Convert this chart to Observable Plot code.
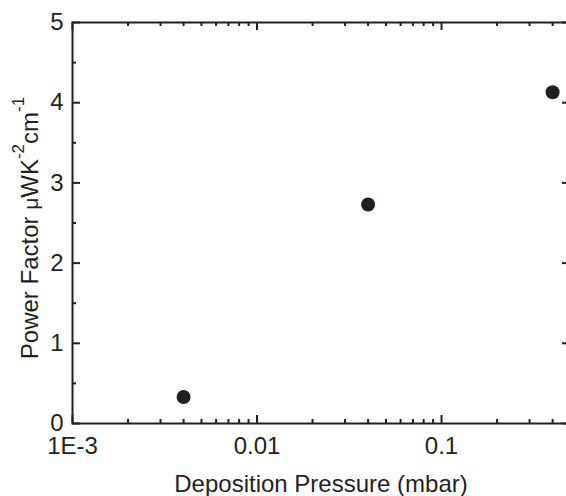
<!DOCTYPE html>
<html><head><meta charset="utf-8">
<script src="https://cdn.jsdelivr.net/npm/d3@7"></script>
<script src="https://cdn.jsdelivr.net/npm/@observablehq/plot@0.6"></script>
<style>body{margin:0;background:#fff} svg{display:block}</style>
</head><body><div id="chart"></div>
<script>
// data
const pressure = [0.004, 0.04, 0.4];          // mbar
const powerFactor = [0.33, 2.73, 4.13];       // µW K^-2 cm^-1
// axis ticks
const xMajor = [0.001, 0.01, 0.1];
const xTickLabels = ["1E-3", "0.01", "0.1"];
const xMinor = [0.002,0.003,0.004,0.005,0.006,0.007,0.008,0.009,
                0.02,0.03,0.04,0.05,0.06,0.07,0.08,0.09,
                0.2,0.3,0.4];
const yMajor = [0, 1, 2, 3, 4, 5];
const yMinor = [0.5, 1.5, 2.5, 3.5, 4.5];
const xTitle = "Deposition Pressure (mbar)";

const ink = "#231f20";
const font = "'Liberation Sans', Arial, Helvetica, sans-serif";
const W = 566, H = 496;
const mL = 72, mT = 22, mR = -4, mB = 73;
const fw = W - mL - mR, fh = H - mT - mB;
const points = pressure.map((p, i) => ({p, v: powerFactor[i]}));

const inTickX = (vals, len, side) => Plot.tickX(vals, {x: d => d, stroke: ink, strokeWidth: 2,
  insetTop: side === "bottom" ? fh - len : 0, insetBottom: side === "top" ? fh - len : 0});
const inTickY = (vals, len, side) => Plot.tickY(vals, {y: d => d, stroke: ink, strokeWidth: 2,
  insetRight: side === "left" ? fw - len : 0, insetLeft: side === "right" ? fw - len : 0});

const chart = Plot.plot({
  width: W, height: H,
  marginLeft: mL, marginTop: mT, marginRight: mR, marginBottom: mB,
  style: {fontFamily: font, fontSize: "24px", color: ink, background: "#fff"},
  x: {type: "log", domain: [0.001, 0.5]},
  y: {domain: [0, 5]},
  marks: [
    Plot.frame({stroke: ink, strokeWidth: 2}),
    inTickX(xMajor, 8, "bottom"), inTickX(xMinor, 4, "bottom"),
    inTickX(xMajor, 8, "top"), inTickX(xMinor, 4, "top"),
    inTickY(yMajor, 8, "left"), inTickY(yMinor, 4, "left"),
    inTickY(yMajor, 8, "right"), inTickY(yMinor, 4, "right"),
    Plot.axisX(xMajor, {tickSize: 0, tickPadding: 13, label: null, fontSize: 24,
      tickFormat: d => xTickLabels[xMajor.indexOf(d)]}),
    Plot.axisY(yMajor, {tickSize: 0, tickPadding: 9, label: null, fontSize: 24,
      tickFormat: d => String(d)}),
    Plot.dot(points, {x: "p", y: "v", r: 7, fill: ink, stroke: "none"})
  ]
});
document.getElementById("chart").append(chart);

const svg = d3.select(chart);
svg.append("text")
  .attr("x", mL + (W - mR - mL) / 2).attr("y", 492)
  .attr("text-anchor", "middle").attr("fill", ink)
  .attr("font-size", 24).attr("font-family", font)
  .text(xTitle);

const yt = svg.append("text")
  .attr("transform", `translate(38,228) rotate(-90)`)
  .attr("text-anchor", "middle").attr("fill", ink)
  .attr("font-size", 24).attr("font-family", font);
yt.append("tspan").text("Power Factor ");
yt.append("tspan").attr("font-size", 21).text("μ");
yt.append("tspan").text("WK");
yt.append("tspan").attr("font-size", 17).attr("dy", -14).text("-2");
yt.append("tspan").attr("dy", 14).text("cm");
yt.append("tspan").attr("font-size", 17).attr("dy", -14).text("-1");
</script>
</body></html>
